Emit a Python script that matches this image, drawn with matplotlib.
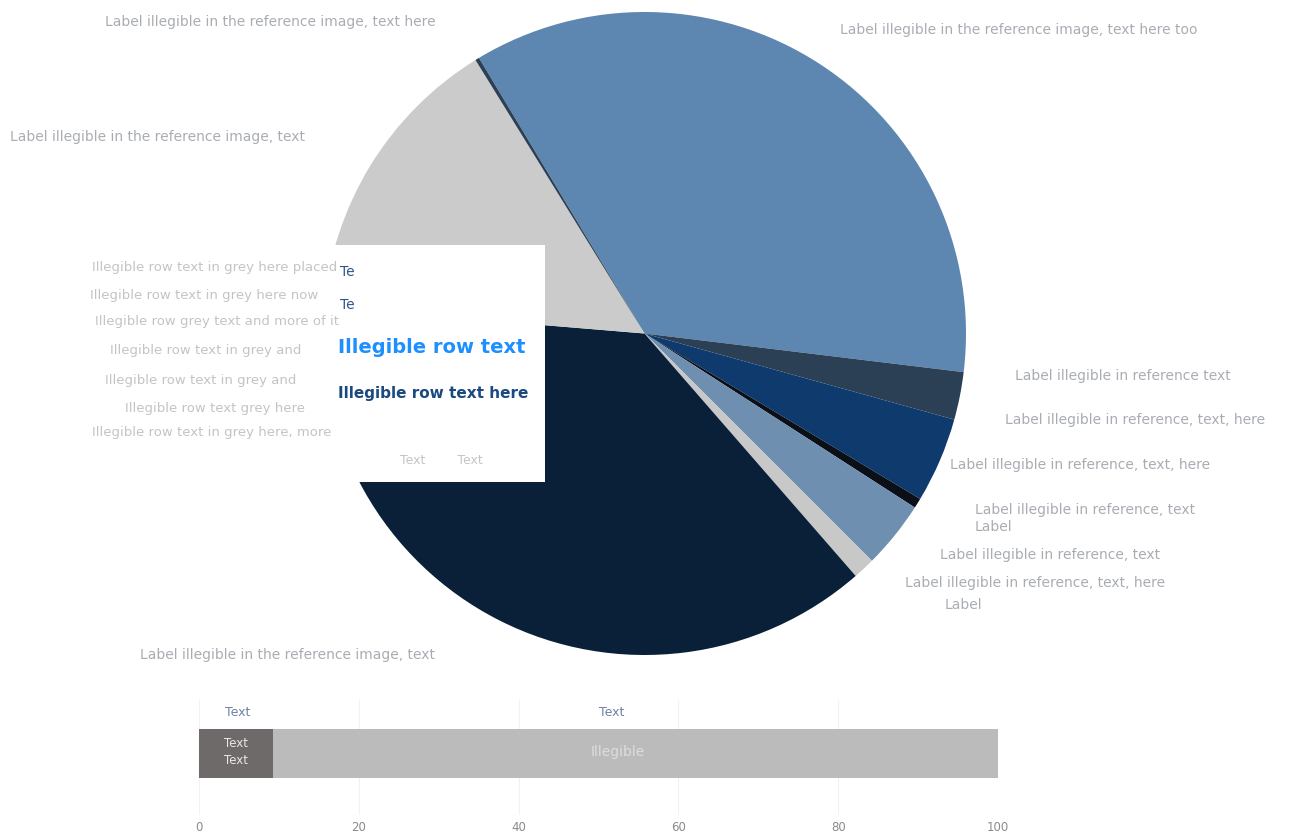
import matplotlib
matplotlib.use("Agg")
import matplotlib.pyplot as plt
from matplotlib.patches import Rectangle

W, H = 1294, 838

# pie, clockwise from the grey/blue edge
pie_values = [35.6, 2.4, 4.3, 0.5, 3.4, 1.1, 37.8, 14.9, 0.2]
pie_colors = ["#5d87b0", "#2b3f55", "#0f3a6e", "#0a0f18", "#6f8fb0", "#c8c8c8",
              "#0a2038", "#cbcbcb", "#2b3f55"]

# stacked bar
bar_values = [9.3, 90.7]
bar_colors = ["#6e6a6a", "#bbbbbb"]
bar_ticks = [0, 20, 40, 60, 80, 100]
bar_ticklabels = ["0", "20", "40", "60", "80", "100"]

# wording is illegible in the reference, so these are neutral stand-ins
slice_labels = [
    "Label illegible in the reference image, text here",
    "Label illegible in the reference image, text here too",
    "Label illegible in the reference image, text",
    "Label illegible in reference text",
    "Label illegible in reference, text, here",
    "Label illegible in reference, text, here",
    "Label illegible in reference, text",
    "Label",
    "Label illegible in reference, text",
    "Label illegible in reference, text, here",
    "Label",
]
slice_label_x = [105, 840, 10, 1015, 1005, 950, 975, 975, 940, 905, 945]
slice_label_y = [22, 30, 137, 376, 420, 465, 510, 527, 555, 583, 605]

tip_rows = ["Illegible row text in grey here placed", "Illegible row text in grey here now",
            "Illegible row grey text and more of it", "Illegible row text in grey and",
            "Illegible row text in grey and", "Illegible row text grey here",
            "Illegible row text in grey here, more"]
tip_x = [92, 90, 95, 110, 105, 125, 92]
tip_y = [267, 295, 322, 350, 380, 408, 432]
tip_labels = ["Te", "Te"]
tip_label_y = [272, 305]

bar_title = "Label illegible in the reference image, text"
top_labels = ["Text", "Text"]
top_label_x = [238, 612]
inner_labels = ["Illegible"]


def fx(px):
    return px / W


def fy(py):
    return 1 - py / H


def axes_px(left, top, right, bottom):
    return fig.add_axes([fx(left), fy(bottom), (right - left) / W, (bottom - top) / H])


fig = plt.figure(figsize=(W / 100, H / 100), dpi=100)

ax = axes_px(323, 12, 966, 655)
ax.pie(pie_values, colors=pie_colors, startangle=121, counterclock=False, radius=1)
ax.set_xlim(-1, 1)
ax.set_ylim(-1, 1)
ax.set_aspect("equal")

# tooltip box over the pie
fig.add_artist(Rectangle((fx(85), fy(482)), 460 / W, 237 / H, transform=fig.transFigure,
                         facecolor="white", edgecolor="none", zorder=5))

txt_color = "#a9adb3"
for s, x, y in zip(slice_labels, slice_label_x, slice_label_y):
    fig.text(fx(x), fy(y), s, fontsize=10, color=txt_color, va="center", zorder=6)
for s, x, y in zip(tip_rows, tip_x, tip_y):
    fig.text(fx(x), fy(y), s, fontsize=9.5, color="#c4c4c4", va="center", zorder=6)

for s, y in zip(tip_labels, tip_label_y):
    fig.text(fx(340), fy(y), s, fontsize=10, color="#2f5587", va="center", zorder=6)
fig.text(fx(338), fy(347), "Illegible row text", fontsize=14, fontweight="bold", color="#1e8fff",
         va="center", zorder=6)
fig.text(fx(338), fy(393), "Illegible row text here", fontsize=11, fontweight="bold", color="#1a4a80",
         va="center", zorder=6)
fig.text(fx(400), fy(460), "Text        Text", fontsize=9, color="#c4c4c4", va="center", zorder=6)

fig.text(fx(140), fy(655), bar_title, fontsize=10, color=txt_color, va="center")

# bar
bx = axes_px(199, 700, 998, 815)
left = 0
for v, c in zip(bar_values, bar_colors):
    bx.barh(0, v, left=left, height=0.43, color=c, zorder=3)
    left += v
bx.set_xlim(0, 100)
bx.set_ylim(-0.535, 0.465)
bx.set_yticks([])
bx.set_xticks(bar_ticks)
bx.set_xticklabels(bar_ticklabels, fontsize=8.5, color="#8a8a8a")
bx.tick_params(axis="x", length=0, pad=4)
bx.grid(axis="x", color="#f2f2f2", lw=0.8, zorder=0)
for sp in bx.spines.values():
    sp.set_visible(False)

for s, x in zip(top_labels, top_label_x):
    fig.text(fx(x), fy(712), s, fontsize=9, color="#6d83a3", ha="center", va="center")
fig.text(fx(236), fy(743), "Text", fontsize=8.5, color="#e8e8e8", ha="center", va="center", zorder=6)
fig.text(fx(236), fy(760), "Text", fontsize=8.5, color="#e8e8e8", ha="center", va="center", zorder=6)
fig.text(fx(618), fy(752), inner_labels[0], fontsize=10, color="#dddddd", ha="center", va="center", zorder=6)

fig.savefig("out.png", dpi=100)
